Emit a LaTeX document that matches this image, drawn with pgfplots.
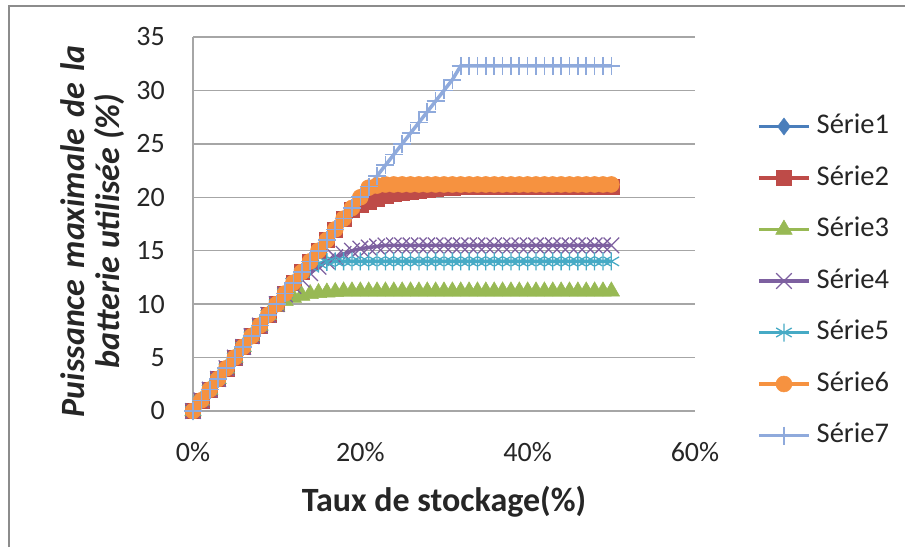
\documentclass[border=0pt]{standalone}
\usepackage{fontspec}
\setmainfont{Carlito}
\usepackage{pgfplots}
\usepackage{pgfplotstable}
\pgfplotsset{compat=1.18}

\definecolor{sA}{HTML}{4A7EBB}
\definecolor{sB}{HTML}{BE4B48}
\definecolor{sC}{HTML}{98B954}
\definecolor{sD}{HTML}{7D60A0}
\definecolor{sE}{HTML}{46AAC5}
\definecolor{sF}{HTML}{F69240}
\definecolor{sG}{HTML}{8FAADC}
\definecolor{gridc}{HTML}{A6A6A6}
\definecolor{framec}{HTML}{8C8C8C}

% taux de stockage (%) / puissance max (%)
\pgfplotstableread{
x  s1    s2    s3    s4    s5    s6    s7
0  0     0     0     0     0     0     0
1  1     1     1     1     1     1     1
2  2     2     2     2     2     2     2
3  3     3     3     3     3     3     3
4  4     4     4     4     4     4     4
5  5     5     5     5     5     5     5
6  6     6     6     6     6     6     6
7  7     7     7     7     7     7     7
8  8     8     8     8     8     8     8
9  9     9     9     9     9     9     9
10 10    10    9.8   10    10    10    10
11 11    11    10.3  10.9  11    11    11
12 12    12    10.6  11.7  12    12    12
13 13    13    10.8  12.3  12.9  13    13
14 14    14    10.95 12.9  13.5  14    14
15 15    15    11.05 13.5  13.8  15    15
16 16    16    11.1  14.0  13.95 16    16
17 17    17    11.15 14.4  14.0  17    17
18 18    18    11.2  14.7  14.0  18    18
19 19    18.8  11.2  15.0  14.0  19    19
20 20    19.3  11.2  15.2  14.0  20    20
21 20.9  19.6  11.2  15.3  14.0  20.9  21
22 21.1  19.9  11.2  15.4  14.0  21.1  22
23 21.1  20.1  11.2  15.5  14.0  21.2  23
24 21.1  20.3  11.2  15.5  14.0  21.2  24
25 21.1  20.45 11.2  15.5  14.0  21.2  25
26 21.1  20.55 11.2  15.5  14.0  21.2  26
27 21.1  20.65 11.2  15.5  14.0  21.2  27
28 21.1  20.75 11.2  15.5  14.0  21.2  28
29 21.1  20.82 11.2  15.5  14.0  21.2  29
30 21.1  20.88 11.2  15.5  14.0  21.2  30
31 21.1  20.93 11.2  15.5  14.0  21.2  31
32 21.1  20.97 11.2  15.5  14.0  21.2  32.3
33 21.1  21.0  11.2  15.5  14.0  21.2  32.3
34 21.1  21.0  11.2  15.5  14.0  21.2  32.3
35 21.1  21.0  11.2  15.5  14.0  21.2  32.3
36 21.1  21.0  11.2  15.5  14.0  21.2  32.3
37 21.1  21.0  11.2  15.5  14.0  21.2  32.3
38 21.1  21.0  11.2  15.5  14.0  21.2  32.3
39 21.1  21.0  11.2  15.5  14.0  21.2  32.3
40 21.1  21.0  11.2  15.5  14.0  21.2  32.3
41 21.1  21.0  11.2  15.5  14.0  21.2  32.3
42 21.1  21.0  11.2  15.5  14.0  21.2  32.3
43 21.1  21.0  11.2  15.5  14.0  21.2  32.3
44 21.1  21.0  11.2  15.5  14.0  21.2  32.3
45 21.1  21.0  11.2  15.5  14.0  21.2  32.3
46 21.1  21.0  11.2  15.5  14.0  21.2  32.3
47 21.1  21.0  11.2  15.5  14.0  21.2  32.3
48 21.1  21.0  11.2  15.5  14.0  21.2  32.3
49 21.1  21.0  11.2  15.5  14.0  21.2  32.3
50 21.1  21.0  11.2  15.5  14.0  21.2  32.3
}\data

\begin{document}
\begin{tikzpicture}
\path[use as bounding box] (0pt,0pt) rectangle (905pt,547pt);
\draw[framec, line width=2pt] (9pt,0pt) -- (9pt,541pt) -- (905pt,541pt);
\begin{axis}[
  at={(193pt,136pt)}, anchor=south west,
  scale only axis, width=502pt, height=374pt,
  xmin=0, xmax=60, ymin=0, ymax=35,
  xtick={0,20,40,60}, xticklabels={0\%,20\%,40\%,60\%},
  ytick={0,5,...,35},
  /pgf/number format/assume math mode=true,
  axis x line*=bottom, axis y line*=left,
  axis line style={gridc, line width=1.5pt},
  major tick length=0pt,
  ymajorgrids, grid style={gridc, line width=1.5pt},
  tick label style={font=\fontsize{28}{32}\selectfont, text=black!85},
  xticklabel style={anchor=center, yshift=-41pt},
  yticklabel style={anchor=east, inner sep=0pt, xshift=-28pt},
  xlabel={\bfseries Taux de stockage(\%)},
  xlabel style={at={(axis description cs:0.5,-0.244)}, anchor=center,
    font=\fontsize{34}{38}\selectfont, text=black!85},
  ylabel={\makebox[372pt][s]{Puissance maximale de la}\\batterie utilisée (\%)},
  ylabel style={at={(axis description cs:-0.2,0.481)}, anchor=center,
    align=center, font=\fontsize{34}{35}\selectfont\bfseries\itshape, text=black!85},
  clip=false,
  legend cell align=left,
  legend image code/.code={
    \draw[mark repeat=2,mark phase=2] plot coordinates {(0pt,0pt) (25pt,0pt) (50pt,0pt)};},
  legend style={at={(axis description cs:1.1235,0.796)}, anchor=north west,
    draw=none, fill=none, inner sep=0pt, row sep=25.5pt, column sep=6pt,
    font=\fontsize{28.5}{32}\selectfont,
    nodes={inner sep=0pt, text height=20pt, text depth=6pt, text=black!85}},
  every axis plot/.append style={line width=3.5pt},
]
\addplot[sA, mark=diamond*, mark size=8.5pt, mark options={solid, fill=sA, line width=0.5pt}] table[x=x, y=s1] {\data};
\addlegendentry{Série1}
\addplot[sB, mark=square*, mark size=7.5pt, mark options={solid, fill=sB, line width=0.5pt}] table[x=x, y=s2] {\data};
\addlegendentry{Série2}
\addplot[sC, mark=triangle*, mark size=9.5pt, mark options={solid, fill=sC, line width=0.5pt}] table[x=x, y=s3] {\data};
\addlegendentry{Série3}
\addplot[sD, mark=x, mark size=11pt, mark options={solid, line width=1.3pt}] table[x=x, y=s4] {\data};
\addlegendentry{Série4}
\addplot[sE, mark=asterisk, mark size=9pt, mark options={solid, line width=1.3pt}] table[x=x, y=s5] {\data};
\addlegendentry{Série5}
\addplot[sF, mark=*, mark size=8pt, mark options={solid, fill=sF, line width=0.5pt}] table[x=x, y=s6] {\data};
\addlegendentry{Série6}
\addplot[sG, mark=+, mark size=9pt, mark options={solid, line width=1.6pt}] table[x=x, y=s7] {\data};
\addlegendentry{Série7}
\end{axis}
\end{tikzpicture}
\end{document}
